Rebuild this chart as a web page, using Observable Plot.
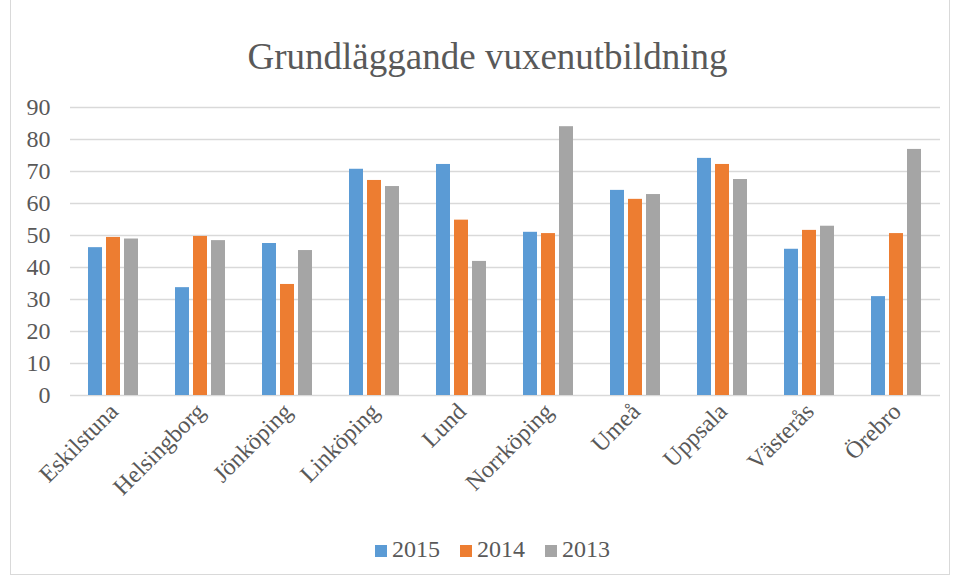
<!DOCTYPE html>
<html><head><meta charset="utf-8">
<script src="https://cdn.jsdelivr.net/npm/d3@7"></script>
<script src="https://cdn.jsdelivr.net/npm/@observablehq/plot@0.6"></script>
<style>
body{margin:0;background:#fff;}
#wrap{position:relative;width:955px;height:577px;overflow:hidden;font-family:"Liberation Serif",serif;}
#frame{position:absolute;left:10px;top:-2px;width:940px;height:577px;border:1px solid #d9d9d9;box-sizing:border-box;}
#title{position:absolute;left:0;width:975px;top:35px;text-align:center;font-size:37px;color:#595959;font-family:"Liberation Serif",serif;}
#chart{position:absolute;left:0;top:0;}
#chart svg text{font-family:"Liberation Serif",serif !important;font-size:24px !important;fill:#595959;}
#legend{position:absolute;left:0;width:985px;top:536px;display:flex;justify-content:center;align-items:center;gap:20px;font-size:24px;color:#595959;font-family:"Liberation Serif",serif;}
#legend span.item{display:flex;align-items:center;}
#legend span.sw{display:inline-block;width:12px;height:12px;margin-right:5px;margin-top:2px;}
</style></head>
<body>
<div id="wrap">
  <div id="frame"></div>
  <div id="chart"></div>
  <div id="title">Grundläggande vuxenutbildning</div>
  <div id="legend"></div>
</div>
<script>
const cities = ["Eskilstuna","Helsingborg","Jönköping","Linköping","Lund","Norrköping","Umeå","Uppsala","Västerås","Örebro"];
const years = ["2015","2014","2013"];
const v2015 = [46.2, 33.7, 47.5, 70.7, 72.2, 51.0, 64.1, 74.1, 45.7, 30.9];
const v2014 = [49.4, 49.7, 34.7, 67.2, 54.8, 50.6, 61.3, 72.2, 51.6, 50.6];
const v2013 = [48.9, 48.4, 45.3, 65.3, 41.9, 84.0, 62.8, 67.5, 52.9, 76.9];
const yTicks = [0,10,20,30,40,50,60,70,80,90];
const colors = ["#5b9bd5","#ed7d31","#a5a5a5"];

const series = [v2015, v2014, v2013];
const data = [];
cities.forEach((c, i) => years.forEach((y, j) => data.push({city: c, year: y, value: series[j][i]})));

const chart = Plot.plot({
  width: 955,
  height: 500,
  marginTop: 107,
  marginBottom: 105,
  marginLeft: 70,
  marginRight: 15,
  style: {fontFamily: "'Liberation Serif', serif", fontSize: "24px", color: "#595959", background: "transparent"},
  facet: {data, x: "city"},
  fx: {domain: cities, padding: 0, axis: "bottom", tickRotate: -45, tickSize: 0, tickPadding: 12, label: null},
  x: {domain: years, axis: null, padding: 0.21, paddingOuter: 0.9},
  y: {domain: [0, 90], ticks: yTicks, tickSize: 0, tickPadding: 20, label: null, tickFormat: d => String(d)},
  color: {domain: years, range: colors},
  marks: [
    Plot.ruleY(yTicks, {stroke: "#d9d9d9", strokeWidth: 1.5}),
    Plot.barY(data, {x: "year", y: "value", fill: "year"})
  ]
});
document.getElementById("chart").appendChild(chart);

const legend = document.getElementById("legend");
years.forEach((y, i) => {
  const it = document.createElement("span");
  it.className = "item";
  it.innerHTML = `<span class="sw" style="background:${colors[i]}"></span>${y}`;
  legend.appendChild(it);
});
</script>
</body></html>
